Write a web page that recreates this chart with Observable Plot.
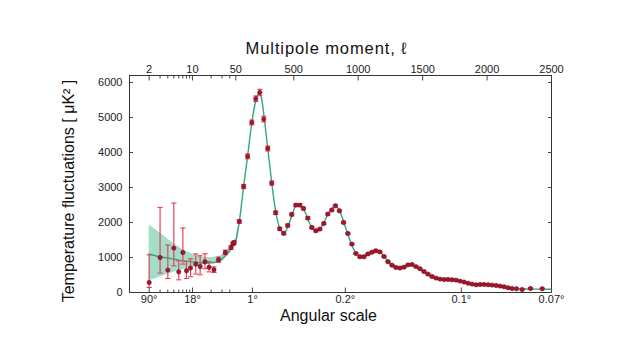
<!DOCTYPE html>
<html><head><meta charset="utf-8">
<script src="https://cdn.jsdelivr.net/npm/d3@7"></script>
<script src="https://cdn.jsdelivr.net/npm/@observablehq/plot@0.6"></script>
<style>
html,body{margin:0;padding:0;background:#fff;}
#chart svg{display:block;}
</style></head><body><div id="chart"></div>
<script>
// ---- data ----
const lowL  = [2,3,4,5,6,7,8,9.3,11.3,13.3,15.9,18.5,22.2,26.3,33.8,41.9,44.8,47];
const lowD  = [286,1000,640,1269,590,1143,620,697,811,743,877,720,649,934,1143,1286,1391,1429];
const lowLo = [143,554,400,763,363,811,400,449,530,506,680,590,571,860,1080,1230,1340,1380];
const lowHi = [1077,2430,1354,2554,906,1840,886,963,1100,1049,1106,880,730,1010,1210,1340,1440,1480];

const highL = [77,111,142,174,205,236,267,298,329,359,391,422,453,484,516,547,575,609,640,671,702,733,764,795,823,854,886,920,951,982,1013,1044,1075,1106,1137,1168,1200,1231,1262,1293,1324,1355,1386,1417,1448,1479,1510,1541,1573,1604,1635,1666,1697,1728,1759,1790,1821,1853,1884,1915,1946,1977,2008,2039,2070,2101,2132,2163,2194,2228,2272,2337,2428];
const highD = [2029,3029,3890,4857,5535,5714,4954,4114,3126,2280,1820,1690,1915,2230,2497,2497,2400,2126,1857,1763,1811,1971,2240,2354,2477,2334,2000,1686,1383,1114,1020,1020,1100,1150,1191,1160,1030,880,780,715,700,725,790,800,740,680,600,526,457,411,383,371,371,363,354,326,300,265,240,220,229,229,220,211,200,183,163,134,114,106,86,114,106];
const highErr = [50,60,70,70,80,90,80,70,60,50,40,40,40,40,40,40,35,35,30,30,30,30,30,30,30,30,30,25,25,25,25,25,25,25,25,25,20,20,20,20,20,20,20,20,20,20,20,20,15,15,15,15,15,15,15,15,15,15,15,15,15,15,15,15,15,15,15,15,15,15,15,20,20];

const modelL = [2,3,4,5,6,8,10,13,16,20,25,30,35,40,45,50,60,70,80,100,120,140,160,180,200,220,235,250,270,300,330,360,390,410,425,450,480,510,535,560,590,620,650,680,710,740,770,800,820,840,870,900,930,960,990,1020,1050,1080,1110,1140,1170,1200,1230,1260,1290,1320,1350,1380,1410,1440,1470,1500,1530,1560,1590,1620,1650,1680,1710,1740,1770,1800,1830,1860,1890,1920,1950,1980,2010,2040,2070,2100,2130,2160,2190,2220,2250,2300,2400,2500];
const modelD = [1100,1020,985,950,925,895,875,855,842,845,880,960,1080,1200,1360,1450,1650,1850,2100,2700,3300,3850,4450,5000,5400,5650,5700,5550,5000,4050,3100,2300,1850,1720,1700,1850,2150,2450,2530,2480,2280,2000,1820,1770,1850,2050,2270,2420,2470,2420,2200,1880,1550,1270,1090,1020,1040,1110,1160,1180,1150,1040,900,790,725,705,725,770,790,760,690,610,540,480,430,395,380,375,372,362,345,318,290,262,240,228,226,226,220,210,198,182,163,140,122,110,102,98,95,92];

const bandL  = [2,3,4,5,6,8,10,13,16,20,25,30,35,40,45,50,60,70];
const bandLo = [334,440,526,580,620,670,710,760,790,820,830,870,990,1110,1260,1370,1570,1790];
const bandHi = [1930,1700,1525,1400,1300,1170,1100,1030,1005,1000,1020,1070,1170,1290,1450,1540,1740,1910];

const yTicks   = [0,1000,2000,3000,4000,5000,6000];
const ellTicks = [2,10,50,500,1000,1500,2000,2500];
const ellMinor = [3,4,5,6,7,8,9,20,30,40];
const angTickL = [2,10,180,900,1800,2500];
const angLabels = ["90°","18°","1°","0.2°","0.1°","0.07°"];

// ---- hybrid x axis: logarithmic below ℓ=50, linear above ----
const K = 481;
const hybrid = l => l >= 50 ? l : 50 - Math.log10(50 / l) * K;

const points = [
  ...lowL.map((l, i) => ({u: hybrid(l), D: lowD[i], lo: lowLo[i], hi: lowHi[i]})),
  ...highL.map((l, i) => ({u: hybrid(l), D: highD[i], lo: highD[i] - highErr[i], hi: highD[i] + highErr[i]}))
];
const caps = points.flatMap(p => [{u: p.u, y: p.lo}, {u: p.u, y: p.hi}]);
const model = modelL.map((l, i) => ({u: hybrid(l), D: modelD[i]}));
const band = bandL.map((l, i) => ({u: hybrid(l), lo: bandLo[i], hi: bandHi[i]}));

const topLabel = new Map(ellTicks.map(l => [hybrid(l), String(l)]));
const angLabel = new Map(angTickL.map((l, i) => [hybrid(l), angLabels[i]]));

const capSymbol = {draw(ctx, size) { const w = Math.sqrt(size); ctx.moveTo(-w, 0); ctx.lineTo(w, 0); }};

const axisInk = "#222", tickInk = "#444";

const chart = Plot.plot({
  width: 630, height: 361,
  marginLeft: 129, marginRight: 79, marginTop: 75, marginBottom: 69,
  style: {fontFamily: "'Liberation Sans', Arial, sans-serif", fontSize: "11px", color: axisInk, background: "#fff"},
  x: {type: "linear", domain: [-775, 2500]},
  y: {type: "linear", domain: [0, 6200]},
  marks: [
    Plot.areaY(band, {x: "u", y1: "lo", y2: "hi", fill: "#a2dec8", curve: "monotone-x"}),
    Plot.line(model, {x: "u", y: "D", stroke: "#33a485", strokeWidth: 1.4, curve: "monotone-x"}),
    Plot.ruleX(points, {x: "u", y1: "lo", y2: "hi", stroke: "#e8455b", strokeWidth: 1.2}),
    Plot.dot(caps, {x: "u", y: "y", r: 1.5, symbol: capSymbol, stroke: "#e8455b", fill: "none", strokeWidth: 1.1}),
    Plot.dot(points, {x: "u", y: "D", r: 2.2, fill: "#a3162d", stroke: "#6e0c1b", strokeWidth: 0.5}),
    Plot.frame({stroke: "#333", strokeWidth: 1}),
    Plot.axisY({anchor: "left", ticks: yTicks, tickFormat: d => String(d), tickSize: -4, tickPadding: 11, label: null, fill: axisInk, stroke: tickInk}),
    Plot.axisY({anchor: "right", ticks: yTicks, tickSize: -4, label: null, fill: "none", stroke: tickInk}),
    Plot.axisX({anchor: "top", ticks: ellTicks.map(hybrid), tickFormat: d => topLabel.get(d), tickSize: -4.5, tickPadding: 7, label: null, fill: axisInk, stroke: tickInk}),
    Plot.axisX({anchor: "top", ticks: ellMinor.map(hybrid), tickSize: -2.5, label: null, fill: "none", stroke: tickInk}),
    Plot.axisX({anchor: "bottom", ticks: angTickL.map(hybrid), tickFormat: d => angLabel.get(d), tickSize: -4.5, tickPadding: 7, label: null, fill: axisInk, stroke: tickInk}),
    Plot.axisX({anchor: "bottom", ticks: ellMinor.map(hybrid), tickSize: -2.5, label: null, fill: "none", stroke: tickInk}),
    Plot.text(["Multipole moment, ℓ"], {frameAnchor: "top", dx: -14, dy: -33.5, fontSize: 16.5, fill: "#111", className: "ttl"}),
    Plot.text(["Angular scale"], {frameAnchor: "bottom", dx: -12, dy: 28, fontSize: 16, fill: "#111"}),
    Plot.text(["Temperature fluctuations [ μK² ]"], {frameAnchor: "left", textAnchor: "middle", dx: -61, dy: 7, rotate: -90, fontSize: 16, fill: "#111"})
  ]
});
d3.select(chart).selectAll("g.ttl text").style("letter-spacing", "0.9px");
document.getElementById("chart").appendChild(chart);
</script>
</body></html>
